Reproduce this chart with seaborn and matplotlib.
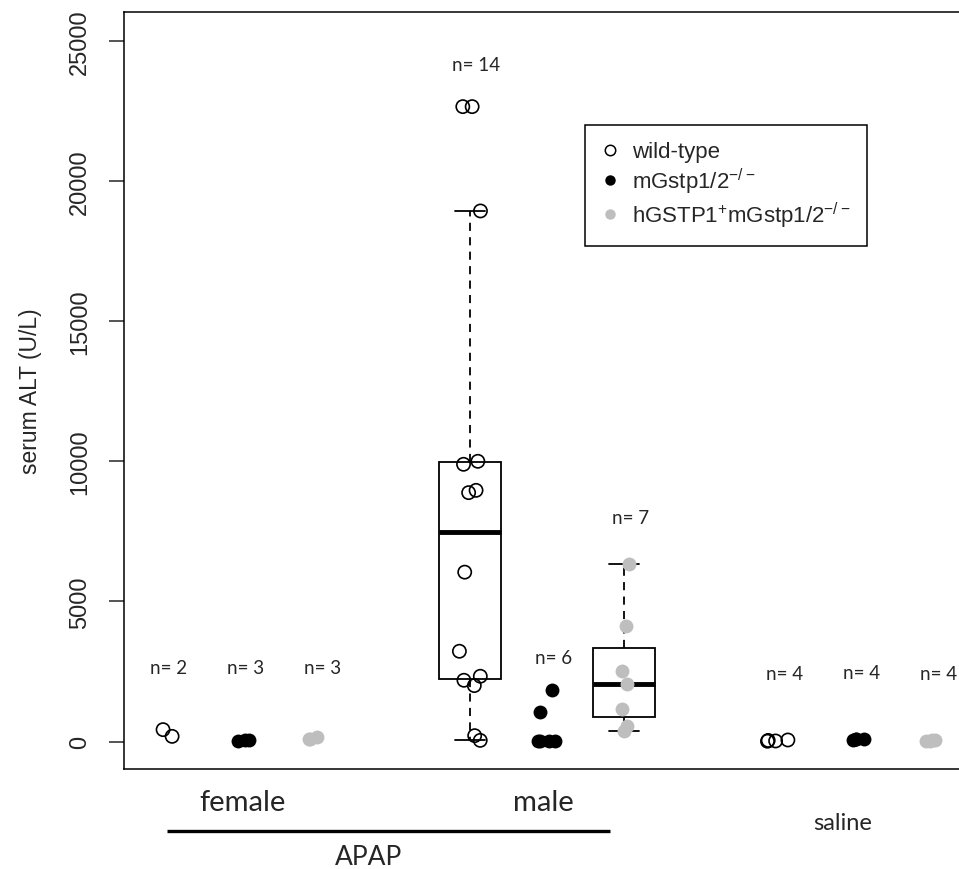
import numpy as np
import pandas as pd
import matplotlib
matplotlib.use("Agg")
import matplotlib.pyplot as plt
import matplotlib.transforms as mtransforms
from matplotlib.lines import Line2D
import seaborn as sns

np.random.seed(4)

# serum ALT (U/L)
female_wt = [189, 429]
female_mgstp = [40, 55, 75]
female_hgstp = [85, 110, 165]
male_wt = [46, 214, 2000, 2190, 2333, 3225, 6046, 8882, 8964, 9893, 10000, 18929, 22650, 22650]
male_mgstp = [10, 15, 25, 35, 1048, 1857]
male_hgstp = [368, 571, 1167, 2071, 2511, 4143, 6346]
saline_wt = [15, 25, 45, 60]
saline_mgstp = [60, 80, 95, 110]
saline_hgstp = [30, 40, 45, 55]

genotype_labels = ['wild-type', r'mGstp1/2$^{-/-}$', r'hGSTP1$^{+}$mGstp1/2$^{-/-}$']
slots = ['F_wt', 'F_mg', 'F_hg', 'gap1', 'M_wt', 'M_mg', 'M_hg', 'gap2', 'S_wt', 'S_mg', 'S_hg']
n_label_y = [2650, 2650, 2650, 24150, 3000, 8000, 2420, 2480, 2420]

groups = [
    ('F_wt', 'wt', female_wt), ('F_mg', 'mg', female_mgstp), ('F_hg', 'hg', female_hgstp),
    ('M_wt', 'wt', male_wt), ('M_mg', 'mg', male_mgstp), ('M_hg', 'hg', male_hgstp),
    ('S_wt', 'wt', saline_wt), ('S_mg', 'mg', saline_mgstp), ('S_hg', 'hg', saline_hgstp),
]
rows = []
for slot, geno, vals in groups:
    for v in vals:
        rows.append({'slot': slot, 'geno': geno, 'alt': v})
df = pd.DataFrame(rows)

sns.set_style("white")
plt.rcParams['font.family'] = ['Liberation Sans', 'DejaVu Sans']
plt.rcParams['mathtext.default'] = 'regular'

fig = plt.figure(figsize=(9.59, 8.70), dpi=100)
ax = fig.add_axes([124 / 959, 1 - 770 / 870, 1 - 124 / 959, (770 - 13) / 870])

grey = '#bebebe'

# boxes only for the two male groups shown with boxes
box_df = df[df.slot.isin(['M_wt', 'M_hg'])]
sns.boxplot(data=box_df, x='slot', y='alt', order=slots, color='white', linecolor='black',
            linewidth=1.3, width=0.8, showfliers=False,
            whiskerprops=dict(linestyle=(0, (4.5, 3.5))),
            medianprops=dict(linewidth=3.5), ax=ax)

# wild-type: open circles
before = len(ax.collections)
sns.stripplot(data=df[df.geno == 'wt'], x='slot', y='alt', order=slots, color='black',
              size=9.5, jitter=0.14, zorder=3, ax=ax)
for c in ax.collections[before:]:
    c.set_facecolor('none')
    c.set_edgecolor('black')
    c.set_linewidth(1.2)

sns.stripplot(data=df[df.geno == 'mg'], x='slot', y='alt', order=slots, color='black',
              size=10, jitter=0.14, linewidth=0, zorder=3, ax=ax)
sns.stripplot(data=df[df.geno == 'hg'], x='slot', y='alt', order=slots, color=grey,
              size=10, jitter=0.12, linewidth=0, zorder=3, ax=ax)

# n labels
for k, (slot, geno, vals) in enumerate(groups):
    ax.text(slots.index(slot) + 0.08, n_label_y[k], f'n= {len(vals)}', ha='center', va='center',
            fontsize=13.5, family=['Lato', 'DejaVu Sans'])

ax.set_xlim(-0.494, 10.35)
ax.set_ylim(-975, 26025)
ax.set_xticks([])
ax.set_xlabel('')
ax.set_yticks([0, 5000, 10000, 15000, 20000, 25000])
ax.tick_params(axis='y', left=True, length=10.8, width=1.1, pad=13, labelsize=17, labelrotation=90)
for lbl in ax.get_yticklabels():
    lbl.set_va('center')
ax.set_ylabel('serum ALT (U/L)', fontsize=16.5)
ax.yaxis.set_label_coords(-0.0982, 0.5)

for side in ['left', 'top', 'bottom']:
    ax.spines[side].set_color('black')
    ax.spines[side].set_linewidth(1.1)
ax.spines['right'].set_visible(False)

handles = [
    Line2D([], [], ls='none', marker='o', ms=7.5, mfc='none', mec='black', mew=1.1),
    Line2D([], [], ls='none', marker='o', ms=7.5, mfc='black', mec='black', mew=0),
    Line2D([], [], ls='none', marker='o', ms=7.5, mfc=grey, mec=grey, mew=0),
]
leg = ax.legend(handles, genotype_labels, loc='upper left', bbox_to_anchor=(0.552, 0.851),
                frameon=True, fancybox=False, edgecolor='black', framealpha=1, fontsize=16,
                handlelength=0.8, handletextpad=0.55, borderpad=0.75, labelspacing=0.15,
                borderaxespad=0)
leg.get_frame().set_linewidth(1.1)

# group labels under the axis
trans = mtransforms.blended_transform_factory(ax.transData, ax.transAxes)
lab_font = ['Lato', 'DejaVu Sans']
ax.text(1.04, -0.0436, 'female', transform=trans, ha='center', va='center', fontsize=21, family=lab_font)
ax.text(4.95, -0.0436, 'male', transform=trans, ha='center', va='center', fontsize=21, family=lab_font)
ax.text(8.84, -0.0713, 'saline', transform=trans, ha='center', va='center', fontsize=17, family=lab_font)
ax.plot([0.065, 5.82], [-0.0819, -0.0819], transform=trans, color='black', lw=2.4, clip_on=False,
        solid_capstyle='butt')
ax.text(2.68, -0.116, 'APAP', transform=trans, ha='center', va='center', fontsize=19, family=lab_font)

fig.savefig('out.png', dpi=100)
